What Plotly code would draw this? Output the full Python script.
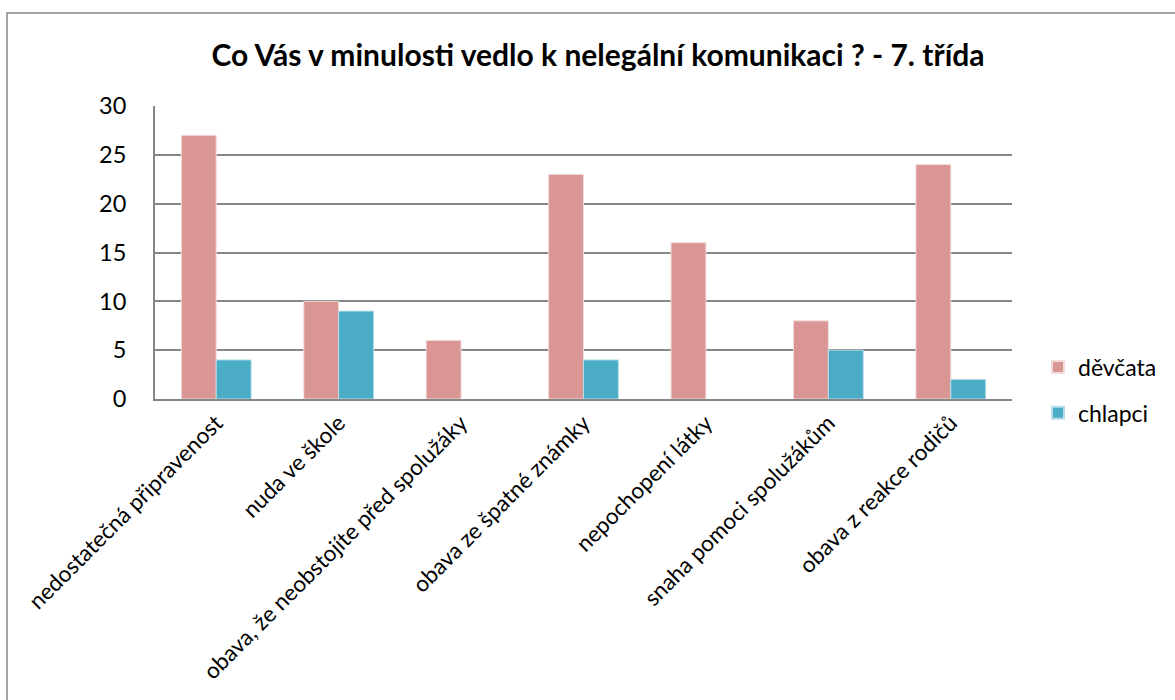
import plotly.graph_objects as go

categories = ["nedostatečná připravenost", "nuda ve škole", "obava, že neobstojíte před spolužáky",
              "obava ze špatné známky", "nepochopení látky", "snaha pomoci spolužákům", "obava z reakce rodičů"]
devcata = [27, 10, 6, 23, 16, 8, 24]
chlapci = [4, 9, 0, 4, 0, 5, 2]

FONT = "Lato, Liberation Sans, sans-serif"

fig = go.Figure()
fig.add_trace(go.Bar(name="děvčata", x=categories, y=devcata, legendgroup="a",
                     marker=dict(color="#D99694",
                                 line=dict(color="#F2DCDB", width=[1 if v > 0 else 0 for v in devcata]))))
fig.add_trace(go.Bar(name="chlapci", x=categories, y=chlapci, legendgroup="b",
                     marker=dict(color="#4BACC6",
                                 line=dict(color="#B7DDE8", width=[1 if v > 0 else 0 for v in chlapci]))))

L, R, T, B = 155, 1012, 106, 399
W, H = 1175, 700
pw, ph = R - L, B - T

fig.update_layout(
    width=W, height=H,
    margin=dict(l=L, r=W - R, t=T, b=H - B, autoexpand=False),
    paper_bgcolor="white", plot_bgcolor="white",
    barmode="group", bargap=0.43, bargroupgap=0,
    font=dict(family=FONT, color="black"),
    title=dict(text="<b>Co Vás v minulosti vedlo k nelegální komunikaci ? - 7. třída</b>",
               x=598 / W, xanchor="center", y=1 - 55 / H, yanchor="middle",
               font=dict(size=30, family=FONT)),
    legend=dict(x=(1038 - L) / pw, xanchor="left", y=(B - 390) / ph, yanchor="middle",
                font=dict(size=23), tracegroupgap=13, traceorder="grouped", itemsizing="constant",
                bgcolor="rgba(0,0,0,0)"),
    showlegend=True,
)
fig.update_yaxes(range=[0, 30], dtick=5, showgrid=True, gridcolor="#868686", gridwidth=1.5,
                 showline=True, linecolor="#868686", linewidth=2,
                 ticks="", ticklabelstandoff=22,
                 tickfont=dict(size=23.5), zeroline=False)
fig.update_xaxes(showline=True, linecolor="#868686", linewidth=2, tickangle=-45,
                 tickfont=dict(size=22.5), ticks="")

# outer chart border
fig.add_shape(type="rect", xref="paper", yref="paper",
              x0=(7 - L) / pw, x1=(1182 - L) / pw,
              y0=(B - 710) / ph, y1=(B - 13) / ph,
              line=dict(color="#868686", width=1.5), fillcolor="rgba(0,0,0,0)", layer="below")

fig.write_html("out.html", config={"displayModeBar": False},
               post_script="document.body.style.margin='0';document.body.style.overflow='hidden';")
